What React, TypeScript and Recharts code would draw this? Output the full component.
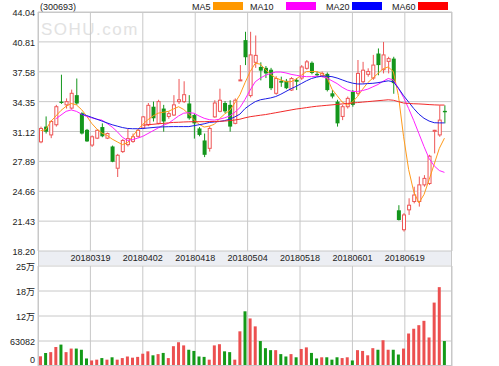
import React from 'react';
import { ComposedChart, Bar, Line, XAxis, YAxis, CartesianGrid, Cell } from 'recharts';

const opens = [
  30.0, 31.65, 30.75, 31.85, 34.35, 34.0, 33.65, 35.05, 33.1, 31.3,
  29.65, 30.4, 31.6, 30.4, 29.5, 27.15, 28.95, 29.7, 30.05, 30.6,
  31.5, 31.85, 33.8, 32.0, 33.6, 32.75, 32.9, 34.35, 34.35, 34.15,
  32.9, 31.45, 30.15, 29.3, 32.7, 33.3, 34.2, 34.0, 32.0, 36.7,
  41.0, 35.0, 38.6, 38.1, 38.0, 37.8, 35.25, 36.6, 36.6, 35.6,
  36.7, 36.9, 37.95, 38.55, 37.35, 37.15, 37.35, 35.25, 34.35, 32.75,
  33.8, 35.4, 35.25, 36.5, 37.3, 36.9, 39.55, 37.8, 38.7, 39.0,
  22.6, 20.5, 22.65, 23.55, 23.55, 25.35, 25.5, 31.25, 30.75, 33.35,
];
const highs = [
  31.65, 32.75, 32.35, 34.0, 37.26, 34.7, 35.65, 36.85, 33.2, 31.4,
  30.7, 31.35, 32.0, 31.0, 29.6, 28.7, 30.3, 31.45, 30.9, 31.4,
  32.8, 34.2, 34.35, 34.55, 34.0, 33.3, 35.05, 36.8, 36.55, 35.05,
  33.1, 31.6, 30.9, 31.7, 34.5, 35.75, 34.4, 34.5, 34.7, 38.3,
  41.9, 41.9, 41.5, 38.6, 38.2, 38.0, 37.1, 37.05, 36.8, 37.0,
  36.9, 38.3, 38.85, 38.7, 37.6, 37.6, 37.5, 35.6, 34.55, 34.0,
  34.9, 35.6, 38.85, 38.65, 37.95, 39.4, 40.1, 40.8, 39.2, 39.2,
  23.15, 22.3, 23.9, 25.15, 26.25, 26.4, 28.6, 31.3, 33.95, 33.95,
];
const lows = [
  29.85, 30.9, 30.4, 31.65, 34.1, 33.6, 33.5, 34.0, 30.8, 30.0,
  29.45, 30.3, 30.5, 30.3, 27.8, 26.2, 28.8, 29.5, 29.9, 30.45,
  31.4, 31.7, 32.2, 31.9, 31.1, 32.5, 32.8, 34.1, 34.2, 32.4,
  30.35, 30.6, 28.35, 28.95, 32.6, 33.2, 33.1, 31.1, 31.9, 36.6,
  38.3, 34.8, 38.0, 36.65, 36.9, 35.6, 35.1, 35.95, 35.7, 35.5,
  35.6, 36.7, 37.8, 37.3, 37.05, 37.0, 35.45, 34.7, 31.65, 32.35,
  33.6, 33.8, 35.0, 36.3, 37.05, 36.7, 37.2, 37.4, 37.4, 35.2,
  21.5, 20.3, 22.1, 23.35, 23.0, 25.15, 25.35, 28.75, 30.55, 32.0,
];
const closes = [
  31.45, 31.1, 32.2, 33.8, 34.2, 34.35, 35.25, 34.15, 30.9, 30.05,
  30.55, 31.25, 30.6, 30.9, 27.85, 28.55, 30.15, 30.35, 30.55, 31.25,
  32.7, 33.95, 32.55, 34.35, 32.2, 33.05, 34.0, 34.55, 35.1, 32.55,
  32.0, 30.75, 28.6, 31.45, 34.2, 34.5, 33.3, 31.65, 34.5, 36.7,
  39.15, 39.4, 39.35, 37.7, 37.4, 35.8, 36.85, 36.4, 35.8, 36.85,
  36.5, 38.1, 38.65, 37.45, 37.2, 37.4, 35.6, 34.9, 32.0, 33.8,
  34.7, 34.0, 37.4, 37.75, 37.6, 38.3, 38.3, 39.4, 39.0, 36.35,
  21.55, 22.1, 23.15, 24.25, 25.35, 26.05, 28.45, 31.25, 32.35, 33.2,
];
const volumes = [
  24500, 32800, 35000, 48000, 54000, 35000, 44000, 44000, 41000, 19000,
  14000, 16000, 20000, 16000, 22000, 16000, 20000, 24000, 21000, 23000,
  31000, 37000, 27000, 30000, 33000, 20000, 50000, 60000, 52000, 41000,
  38000, 24000, 23000, 16000, 52000, 55000, 37000, 35000, 16000, 87500,
  138000, 120000, 100000, 63000, 45000, 40000, 40000, 30000, 24000, 30000,
  22000, 43000, 47000, 33000, 19000, 22000, 22000, 16000, 22000, 20000,
  22000, 14000, 40000, 38000, 27000, 45000, 41000, 65000, 41000, 41000,
  29000, 44000, 82000, 94000, 103000, 114000, 72000, 160000, 199000, 63000,
];
const ma5 = [
  31.2, 31.3, 32.2, 32.8, 33.4, 33.85, 34.15, 34.0, 33.5, 32.8,
  32.0, 31.4, 30.95, 30.7, 30.3, 30.0, 29.7, 29.9, 30.6, 31.3,
  31.9, 32.4, 32.8, 33.1, 33.2, 33.3, 33.55, 33.8, 33.5, 33.0,
  32.4, 31.9, 31.6, 31.7, 31.9, 32.5, 33.0, 33.4, 34.2, 35.1,
  36.4, 37.6, 38.5, 38.4, 37.8, 37.3, 36.9, 36.7, 36.5, 36.5,
  36.8, 37.2, 37.6, 37.6, 37.6, 37.4, 37.0, 35.7, 35.0, 34.3,
  34.0, 34.3, 34.9, 35.7, 36.4, 36.9, 37.4, 37.9, 38.1, 37.6,
  35.0, 30.6, 27.0, 24.6, 23.4, 24.3, 25.9, 27.6, 29.3, 30.4,
];
const ma10 = [
  null, null, null, 32.5, 32.9, 33.3, 33.45, 33.3, 33.0, 32.75,
  32.6, 32.45, 32.35, 32.0, 31.6, 31.1, 30.5, 30.15, 30.25, 30.4,
  30.6, 30.9, 31.2, 31.5, 31.8, 32.0, 32.4, 32.8, 33.1, 33.15,
  33.1, 32.8, 32.55, 32.4, 32.35, 32.45, 32.6, 32.8, 33.2, 33.7,
  34.6, 35.6, 36.5, 36.9, 37.2, 37.4, 37.55, 37.55, 37.45, 37.3,
  37.2, 37.1, 37.05, 37.05, 37.1, 37.05, 36.9, 36.6, 36.3, 35.9,
  35.6, 35.45, 35.45, 35.55, 35.7, 35.95, 36.2, 36.55, 36.85, 36.7,
  35.8, 34.8, 33.6, 32.3, 30.9, 29.5, 28.2, 27.4, 26.9, 26.7,
];
const ma20 = [
  null, null, null, null, null, null, null, null, 33.0, 32.85,
  32.65, 32.45, 32.25, 32.05, 31.85, 31.7, 31.55, 31.45, 31.42, 31.42,
  31.45, 31.5, 31.55, 31.6, 31.62, 31.64, 31.65, 31.65, 31.65, 31.65,
  31.75, 31.85, 31.95, 32.1, 32.15, 32.2, 32.3, 32.45, 32.7, 33.0,
  33.6, 34.0, 34.35, 34.55, 34.65, 34.75, 34.9, 35.15, 35.45, 35.75,
  36.0, 36.3, 36.6, 36.85, 37.0, 37.1, 37.1, 37.05, 36.9, 36.7,
  36.5, 36.35, 36.26, 36.26, 36.3, 36.33, 36.4, 36.5, 36.6, 36.5,
  35.8, 35.0, 34.3, 33.6, 33.0, 32.55, 32.25, 32.07, 32.05, 32.05,
];
const ma60 = [
  null, null, null, null, null, null, null, null, null, null,
  null, null, null, null, null, null, null, null, null, null,
  31.8, 31.85, 31.9, 31.95, 32.0, 32.05, 32.1, 32.12, 32.15, 32.17,
  32.18, 32.18, 32.18, 32.2, 32.2, 32.22, 32.25, 32.3, 32.36, 32.45,
  32.6, 32.72, 32.8, 32.88, 32.95, 33.05, 33.15, 33.25, 33.35, 33.45,
  33.55, 33.62, 33.7, 33.78, 33.85, 33.9, 33.95, 34.0, 34.05, 34.1,
  34.15, 34.2, 34.25, 34.3, 34.35, 34.4, 34.45, 34.5, 34.55, 34.5,
  34.35, 34.2, 34.15, 34.12, 34.1, 34.07, 34.03, 34.0, 33.98, 33.98,
];

const dateLabels = ['20180319', '20180402', '20180418', '20180504', '20180518', '20180601', '20180619'];
const dateTickIdx = [10, 20, 30, 40, 50, 60, 70];
const priceTicks = [18.2, 21.43, 24.66, 27.89, 31.12, 34.35, 37.58, 40.81, 44.04];
const volTicks = [0, 63082, 126164, 189246, 252328];
const volTickLabels = ['0', '63082', '12万', '18万', '25万'];

const maSeries = [
  { key: 'ma5', name: 'MA5', line: '#ff9a1a', box: '#ff9900' },
  { key: 'ma10', name: 'MA10', line: '#ff22ff', box: '#ff00ff' },
  { key: 'ma20', name: 'MA20', line: '#1c1ce6', box: '#0000ff' },
  { key: 'ma60', name: 'MA60', line: '#f22a2a', box: '#ff0000' },
];
const legendPos = [
  { text: 192, box: 213 },
  { text: 250, box: 286 },
  { text: 326, box: 352 },
  { text: 392, box: 418 },
];

const RED = '#ee5656';
const GREEN = '#14961c';
const GRID = '#c8c8c8';
const FONT = '"Liberation Sans", Arial, "Noto Sans CJK SC", sans-serif';

const rows = opens.map((o, i) => ({
  i,
  o,
  h: highs[i],
  l: lows[i],
  c: closes[i],
  range: [lows[i], highs[i]],
  vol: volumes[i],
  ma5: ma5[i],
  ma10: ma10[i],
  ma20: ma20[i],
  ma60: ma60[i],
}));

const Candle = (props: any) => {
  const { x, y, width, height, payload } = props;
  if (!payload || height == null) return null;
  const top = Math.min(y, y + height);
  const hgt = Math.abs(height);
  const span = payload.h - payload.l || 1;
  const py = (v: number) => top + ((payload.h - v) / span) * hgt;
  const cx = x + width / 2;
  const up = payload.c >= payload.o;
  const color = up ? RED : GREEN;
  const bTop = py(Math.max(payload.o, payload.c));
  const bBot = py(Math.min(payload.o, payload.c));
  const bh = Math.max(bBot - bTop, 1);
  return (
    <g>
      <line x1={cx} x2={cx} y1={top} y2={top + hgt} stroke={color} strokeWidth={1} />
      {up ? (
        <rect x={cx - 1.5} y={bTop} width={3} height={bh} fill="#fff" stroke={color} strokeWidth={1} />
      ) : (
        <rect x={cx - 2} y={bTop} width={4} height={bh} fill={color} />
      )}
    </g>
  );
};

const PriceTick = (props: any) => {
  const { x, y, payload } = props;
  return (
    <text x={x - 3} y={y + 4} textAnchor="end" fontSize={9} fill="#222" fontFamily={FONT}>
      {payload.value.toFixed(2)}
    </text>
  );
};

const DateTick = (props: any) => {
  const { x, y, payload } = props;
  const k = dateTickIdx.indexOf(payload.value);
  return (
    <text x={x} y={y + 10} textAnchor="middle" fontSize={9} fill="#222" fontFamily={FONT}>
      {dateLabels[k]}
    </text>
  );
};

// volume chart is 115 high, so keep the "0" label inside it
const VolTick = (props: any) => {
  const { x, y, payload } = props;
  const k = volTicks.indexOf(payload.value);
  return (
    <text x={x - 3} y={Math.min(y + 3.5, 112)} textAnchor="end" fontSize={9} fill="#222" fontFamily={FONT}>
      {volTickLabels[k]}
    </text>
  );
};

export default function App() {
  return (
    <div style={{ position: 'absolute', left: 0, top: 0, width: 499, height: 366, background: '#fff', fontFamily: FONT, overflow: 'hidden' }}>
      <div style={{ position: 'absolute', left: 38, top: 251, width: 414, height: 14, background: '#eceef3' }} />
      <svg width={499} height={40} style={{ position: 'absolute', left: 0, top: 0 }}>
        <text x={41} y={35} fontSize={17} letterSpacing={1.5} fill="#e2e2e2" fontFamily={FONT}>
          SOHU.com
        </text>
        <text x={40} y={9.5} fontSize={9} fill="#222" fontFamily={FONT}>
          (300693)
        </text>
        {maSeries.map((s, k) => (
          <g key={s.key}>
            <text x={legendPos[k].text} y={9.5} fontSize={9} fill="#222" fontFamily={FONT}>
              {s.name}
            </text>
            <rect x={legendPos[k].box} y={2} width={30} height={8} fill={s.box} />
          </g>
        ))}
      </svg>

      <div style={{ position: 'absolute', left: 0, top: 0 }}>
        <ComposedChart width={499} height={266} data={rows} margin={{ top: 12, right: 47, bottom: 1, left: 0 }}>
          <CartesianGrid xAxisId="g" stroke={GRID} />
          <XAxis dataKey="i" type="category" hide height={0} padding={{ left: 0, right: 5 }} />
          <XAxis
            xAxisId="g"
            type="number"
            domain={[0, 80]}
            allowDataOverflow
            ticks={dateTickIdx}
            interval={0}
            height={14}
            tick={<DateTick />}
            tickSize={0}
            tickMargin={0}
            axisLine={false}
            tickLine={false}
          />
          <YAxis
            domain={[18.2, 44.04]}
            allowDataOverflow
            ticks={priceTicks}
            interval={0}
            width={38}
            tick={<PriceTick />}
            tickSize={0}
            tickMargin={0}
            axisLine={false}
            tickLine={false}
          />
          <Bar dataKey="range" barSize={4} shape={<Candle />} isAnimationActive={false} />
          {maSeries.map((s) => (
            <Line
              key={s.key}
              dataKey={s.key}
              stroke={s.line}
              strokeWidth={1}
              dot={false}
              type="linear"
              isAnimationActive={false}
            />
          ))}
        </ComposedChart>
      </div>

      <div style={{ position: 'absolute', left: 0, top: 251 }}>
        <ComposedChart width={499} height={115} data={rows} margin={{ top: 15, right: 47, bottom: 0, left: 0 }}>
          <CartesianGrid xAxisId="g" stroke={GRID} />
          <XAxis dataKey="i" type="category" hide height={0} padding={{ left: 0, right: 5 }} />
          <XAxis xAxisId="g" type="number" domain={[0, 80]} allowDataOverflow ticks={dateTickIdx} interval={0} hide height={0} />
          <YAxis
            domain={[0, 252328]}
            allowDataOverflow
            ticks={volTicks}
            interval={0}
            width={38}
            tick={<VolTick />}
            tickSize={0}
            tickMargin={0}
            axisLine={false}
            tickLine={false}
          />
          <Bar dataKey="vol" barSize={3} isAnimationActive={false}>
            {rows.map((r) => (
              <Cell key={r.i} fill={r.c >= r.o ? '#ec5050' : '#149a18'} />
            ))}
          </Bar>
        </ComposedChart>
      </div>

      <div style={{ position: 'absolute', left: 38, top: 12, width: 414, height: 354, border: `1px solid ${GRID}`, boxSizing: 'border-box', pointerEvents: 'none' }} />
    </div>
  );
}
